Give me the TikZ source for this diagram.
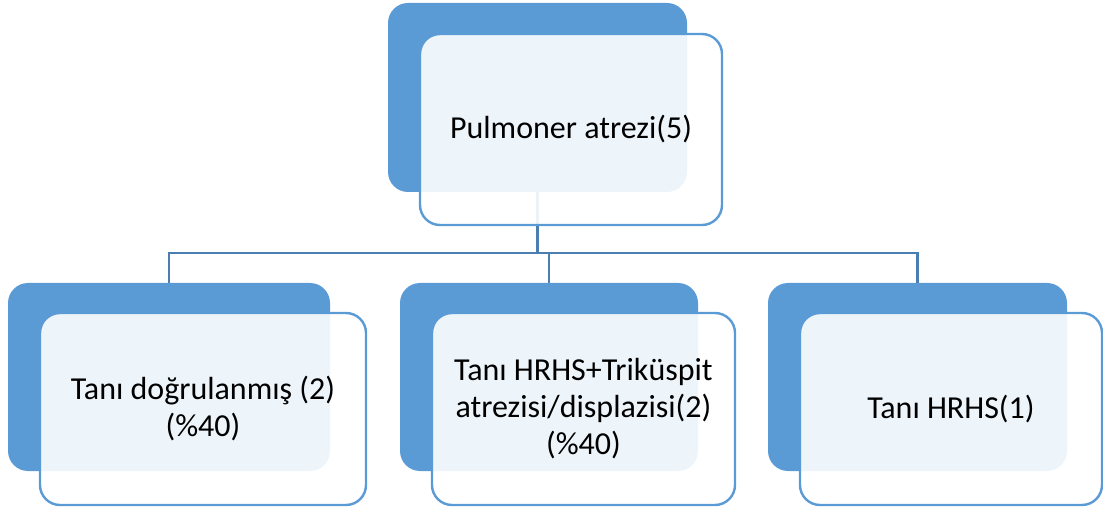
\documentclass[tikz,border=0pt]{standalone}
\usepackage{fontspec}
\setmainfont{Carlito}
\usetikzlibrary{backgrounds}
\definecolor{accent}{HTML}{5B9BD5}
\definecolor{linkblue}{HTML}{4A7EB0}
\begin{document}
\begin{tikzpicture}[x=1pt,y=-1pt,
  backbox/.style={rectangle, rounded corners=20pt, fill=accent, draw=none,
    inner sep=0pt, minimum width=#1},
  frontbox/.style={rectangle, rounded corners=20pt, fill=white, fill opacity=0.9,
    text opacity=1, draw=accent, line width=2.4pt, inner sep=0pt,
    align=center, font=\fontsize{32}{37}\selectfont, minimum width=#1},
  link/.style={draw=linkblue, line width=2.6pt}]
\useasboundingbox (0,0) rectangle (1103,510);

% solid background cards
\node[backbox=299pt, minimum height=189pt] (topback) at (537.5,97.5) {};
\node[backbox=322pt, minimum height=188pt] (leftback) at (169,377) {};
\node[backbox=298pt, minimum height=188pt] (midback) at (549,377) {};
\node[backbox=299pt, minimum height=188pt] (rightback) at (917.5,377) {};

% connectors from the root to the three branches, kept behind the cards
\coordinate (bus) at (537.5,253);
\begin{pgfonlayer}{background}
\draw[link] (topback.center) -- (bus);
\draw[link] (leftback.center) |- (bus) -| (rightback.center);
\draw[link] (midback.center) |- (bus);
\end{pgfonlayer}

% translucent text cards
\node[frontbox=302pt, minimum height=191pt] (root) at (571,129.5) {Pulmoner atrezi(5)};
\node[frontbox=326pt, minimum height=192pt] (left) at (203,409) {Tanı doğrulanmış (2)\\(\%40)};
\node[frontbox=303pt, minimum height=192pt] (mid) at (583.5,409) {Tanı HRHS+Triküspit\\atrezisi/displazisi(2)\\(\%40)};
\node[frontbox=302pt, minimum height=192pt] (right) at (951,409) {Tanı HRHS(1)};
\end{tikzpicture}
\end{document}
